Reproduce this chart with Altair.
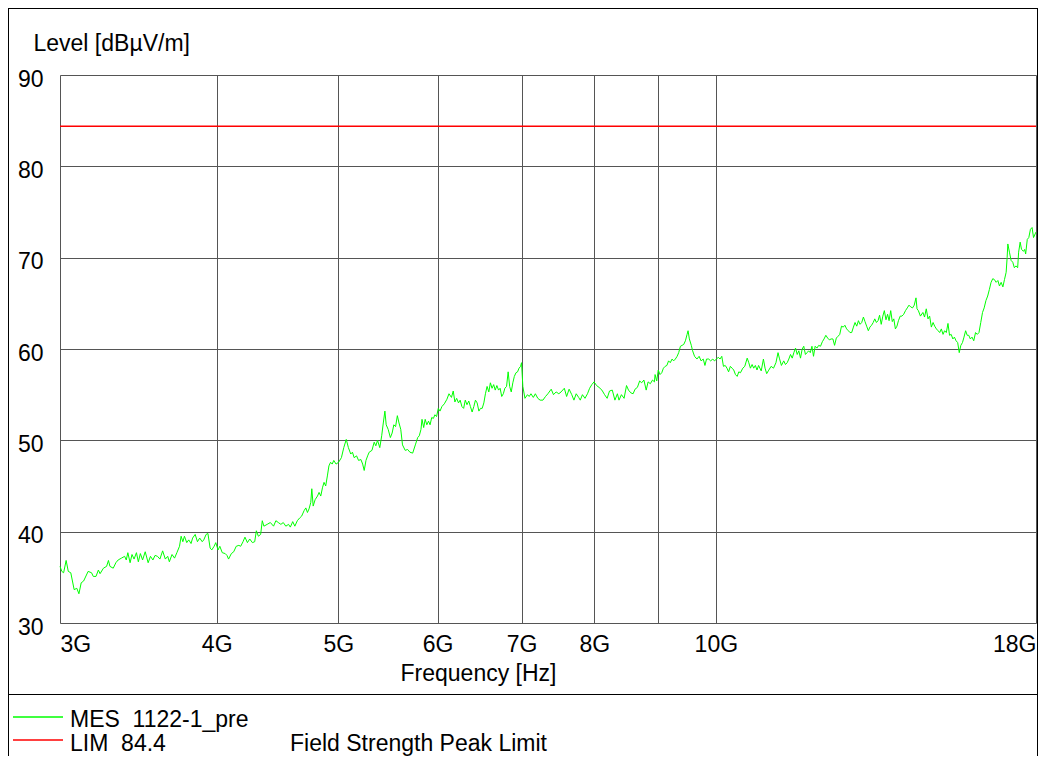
import altair as alt
import pandas as pd

# ---------------- data ----------------
FREQ_GHZ = [
    3.000, 3.010, 3.020, 3.034, 3.046, 3.060, 3.079, 3.094, 3.106, 3.119, 3.133, 3.159, 3.179, 3.189, 3.205,
    3.219, 3.229, 3.249, 3.268, 3.279, 3.288, 3.308, 3.324, 3.338, 3.358, 3.378, 3.388, 3.398, 3.412, 3.424,
    3.437, 3.452, 3.464, 3.477, 3.491, 3.508, 3.527, 3.542, 3.558, 3.572, 3.588, 3.604, 3.622, 3.640, 3.656,
    3.667, 3.685, 3.702, 3.718, 3.736, 3.747, 3.759, 3.770, 3.786, 3.800, 3.816, 3.827, 3.845, 3.861, 3.877,
    3.895, 3.906, 3.923, 3.936, 3.952, 3.964, 3.981, 3.993, 4.010, 4.023, 4.041, 4.063, 4.076, 4.088, 4.109,
    4.127, 4.146, 4.166, 4.180, 4.198, 4.213, 4.232, 4.250, 4.271, 4.289, 4.302, 4.318, 4.336,
    4.349, 4.362, 4.388, 4.414, 4.440, 4.459, 4.479, 4.500, 4.520, 4.541, 4.564, 4.579, 4.599, 4.617, 4.638,
    4.658, 4.675, 4.696, 4.711, 4.725, 4.739, 4.754, 4.763, 4.775, 4.792, 4.813, 4.827, 4.842, 4.857, 4.871,
    4.886, 4.901, 4.915, 4.930, 4.945, 4.959, 4.980, 5.003, 5.029, 5.051, 5.074, 5.094, 5.116, 5.132, 5.148,
    5.171, 5.190, 5.212, 5.229, 5.244, 5.261, 5.277, 5.292, 5.319, 5.341, 5.357, 5.374, 5.396, 5.415, 5.431,
    5.447, 5.460, 5.480, 5.502, 5.520, 5.537, 5.555, 5.573, 5.590, 5.608, 5.626, 5.654, 5.679, 5.703, 5.732,
    5.760, 5.785, 5.802, 5.820, 5.831, 5.849, 5.865, 5.883, 5.901, 5.918, 5.936, 5.954, 5.971, 5.989, 6.008,
    6.027, 6.048, 6.075, 6.104, 6.127, 6.155, 6.175, 6.194,
    6.214, 6.235, 6.254, 6.274, 6.294, 6.313, 6.333, 6.354, 6.373, 6.393, 6.413, 6.432, 6.452, 6.473, 6.492,
    6.512, 6.532, 6.551, 6.571, 6.592, 6.611, 6.631, 6.651, 6.670, 6.690, 6.711, 6.730, 6.750, 6.770, 6.789,
    6.810, 6.830, 6.849, 6.869, 6.889, 6.908, 6.929, 6.949, 6.968, 6.988, 7.000, 7.017, 7.044, 7.077, 7.099,
    7.122, 7.153, 7.180, 7.212, 7.243, 7.280, 7.315, 7.347, 7.392, 7.423, 7.459, 7.496, 7.527, 7.572, 7.604,
    7.639, 7.676, 7.707, 7.739, 7.774, 7.797, 7.828, 7.865, 7.901, 7.932, 7.964, 7.997, 8.034, 8.070, 8.113,
    8.153, 8.191, 8.227, 8.269, 8.309, 8.347, 8.372, 8.409, 8.450, 8.488, 8.519, 8.555, 8.591, 8.622, 8.659,
    8.695, 8.727, 8.763, 8.800, 8.831, 8.867, 8.903, 8.934,
    8.945, 8.972, 8.997, 9.026, 9.055, 9.083, 9.112, 9.141, 9.169, 9.198, 9.228, 9.255, 9.284, 9.314, 9.341,
    9.371, 9.400, 9.428, 9.457, 9.486, 9.503, 9.526, 9.560, 9.583, 9.617, 9.659, 9.698, 9.733, 9.772, 9.802,
    9.831, 9.871, 9.905, 9.945, 9.974, 10.014, 10.044, 10.077, 10.110, 10.141, 10.174, 10.207, 10.237, 10.270,
    10.303, 10.334, 10.367, 10.400, 10.431, 10.463, 10.508, 10.546, 10.593, 10.624, 10.656, 10.689, 10.720,
    10.753, 10.785, 10.817, 10.869, 10.913, 10.946, 10.979, 11.011, 11.068, 11.117, 11.167, 11.210, 11.237,
    11.280, 11.328, 11.364, 11.400, 11.434, 11.470, 11.506, 11.540, 11.576, 11.612, 11.646, 11.682, 11.718,
    11.752, 11.788, 11.824, 11.858, 11.894, 11.930, 11.964, 12.000, 12.040, 12.079, 12.119, 12.160, 12.198,
    12.238, 12.279, 12.317, 12.357, 12.398, 12.436, 12.476, 12.517, 12.555, 12.595, 12.636, 12.674, 12.714,
    12.755, 12.793,
    12.833, 12.874, 12.912, 12.952, 12.993, 13.031, 13.071, 13.112, 13.150, 13.190, 13.231, 13.269, 13.310,
    13.350, 13.388, 13.429, 13.469, 13.507, 13.548, 13.588, 13.626, 13.667, 13.707, 13.745, 13.786, 13.826,
    13.864, 13.905, 13.945, 13.983, 14.028, 14.074, 14.118, 14.165, 14.212, 14.256, 14.303, 14.350, 14.394,
    14.441, 14.468, 14.504, 14.559, 14.625, 14.669, 14.716, 14.763, 14.807, 14.854, 14.901, 14.945, 14.992,
    15.039, 15.083, 15.129, 15.176, 15.220, 15.267, 15.314, 15.358, 15.405, 15.452, 15.496, 15.543, 15.590,
    15.634, 15.680, 15.727, 15.771, 15.818, 15.865, 15.909, 15.956, 16.006, 16.056, 16.109, 16.161, 16.211,
    16.264, 16.317, 16.366, 16.419, 16.472, 16.522, 16.575, 16.627, 16.677, 16.730, 16.783, 16.832, 16.885,
    16.938, 16.988, 17.040, 17.071, 17.093, 17.143, 17.196, 17.248, 17.298, 17.351, 17.404, 17.435, 17.484,
    17.528, 17.590, 17.630, 17.661, 17.714, 17.764, 17.817, 17.870, 17.919, 17.972, 18.000,
]

LEVEL_DBUV = [
    36.2, 35.65, 35.5, 36.85, 35.65, 35.5, 33.65, 33.8, 33.2, 34.4, 34.6, 35.65, 35.5, 35.1, 35.1,
    35.8, 35.4, 36.0, 36.2, 36.85, 36.2, 36.0, 36.6, 36.9, 37.1, 37.3, 36.9, 37.7, 36.6, 37.5,
    37.0, 37.7, 36.7, 37.6, 36.9, 37.8, 36.6, 37.3, 36.9, 37.4, 37.3, 37.0, 37.9, 37.0, 37.3,
    36.7, 37.5, 37.1, 37.7, 38.4, 39.5, 38.9, 39.5, 38.8, 39.1, 38.7, 39.3, 39.7, 38.9, 39.3,
    38.9, 39.1, 39.7, 39.8, 38.2, 38.0, 38.4, 38.8, 38.0, 38.4, 37.7, 37.6, 37.4, 37.0, 37.6,
    37.8, 38.4, 38.5, 38.4, 38.9, 39.4, 38.8, 39.2, 38.8, 38.9, 40.1, 39.5, 39.7,
    41.2, 40.6, 40.8, 41.0, 40.6, 41.2, 41.0, 40.8, 41.0, 40.6, 40.8, 40.5, 41.1, 40.6, 41.2,
    41.5, 41.7, 42.3, 42.6, 42.1, 42.5, 43.2, 44.7, 42.8, 43.5, 43.9, 44.3, 43.9, 44.8, 45.4,
    45.0, 46.1, 47.2, 47.6, 47.4, 47.8, 47.4, 47.6, 48.1, 49.2, 50.1, 49.2, 48.5, 48.7, 48.1,
    48.3, 47.8, 47.9, 47.4, 46.7, 47.8, 48.3, 48.7, 48.9, 49.8, 49.4, 50.0, 49.2, 50.5, 51.9,
    53.2, 51.7, 51.2, 50.3, 50.8, 51.7, 51.5, 52.7, 51.9, 51.2, 49.5, 48.9, 49.0, 48.7, 48.6,
    49.5, 50.3, 50.5, 51.2, 52.3, 51.4, 52.3, 51.7, 52.1, 51.7, 52.5, 52.4, 52.8, 52.6, 53.5,
    53.2, 53.7, 54.0, 54.5, 55.1, 54.7, 55.4, 54.2,
    54.6, 54.1, 54.4, 53.7, 53.5, 54.4, 53.9, 54.3, 53.7, 53.1, 53.7, 54.4, 54.1, 53.2, 53.5,
    53.5, 54.1, 55.1, 55.9, 55.3, 56.3, 55.7, 56.1, 55.5, 56.0, 55.5, 55.7, 54.8, 55.1, 55.7,
    55.9, 57.5, 55.9, 55.3, 56.3, 57.0, 57.4, 57.5, 57.9, 58.1, 58.5, 55.9, 54.6, 55.0, 54.8,
    55.1, 54.7, 55.1, 54.6, 54.4, 54.4, 54.8, 55.1, 55.6, 55.0, 55.3, 55.1, 55.3, 55.7, 54.8,
    55.6, 55.0, 54.4, 55.1, 54.7, 54.4, 55.0, 54.6, 55.1, 55.7, 56.1, 56.4, 56.0, 55.8, 55.5,
    55.0, 54.6, 55.4, 55.5, 54.4, 55.1, 54.4, 55.0, 54.6, 56.0, 55.5, 55.2, 55.1, 55.6, 55.8,
    56.5, 56.3, 56.6, 55.5, 56.4, 56.2, 56.6, 56.4,
    57.2, 56.5, 57.7, 57.2, 57.4, 57.9, 58.1, 58.2, 58.7, 58.5, 58.9, 58.7, 58.9, 59.2, 59.6,
    60.3, 60.4, 60.5, 60.9, 61.6, 62.0, 61.1, 60.4, 59.8, 59.2, 58.9, 59.2, 58.7, 58.9, 58.2,
    58.9, 58.9, 58.7, 58.9, 58.7, 58.9, 59.1, 58.9, 59.2, 58.1, 58.2, 57.9, 57.5, 58.1,
    57.9, 57.7, 57.2, 57.0, 57.5, 57.4, 57.9, 58.1, 59.0, 58.5, 57.9, 58.3, 57.9,
    58.2, 57.7, 58.2, 57.6, 58.9, 57.9, 57.3, 57.6, 58.1, 57.9, 58.5, 59.6, 59.0,
    58.2, 58.7, 58.3, 58.5, 58.9, 59.4, 59.0, 59.6, 60.1, 59.4, 59.8, 59.0, 60.0,
    60.3, 59.4, 59.6, 59.8, 59.6, 60.3, 59.2, 60.3, 60.1, 60.4, 60.3, 60.8, 61.1,
    61.5, 61.2, 61.0, 61.1, 61.1, 60.4, 61.2, 61.4, 61.6, 62.5, 62.4, 62.6, 62.2,
    62.0, 61.8,
    61.8, 62.4, 62.9, 62.5, 63.1, 62.7, 62.9, 63.5, 63.0, 62.5, 62.0, 62.4, 62.6,
    62.9, 63.3, 62.9, 63.1, 63.7, 62.7, 63.6, 64.2, 63.2, 63.8, 63.1, 64.2, 63.0,
    63.3, 62.2, 62.5, 63.1, 63.6, 63.6, 63.8, 64.2, 64.5, 64.8, 64.6, 64.5, 64.8,
    65.6, 64.4, 64.2, 63.6, 64.0, 63.5, 64.4, 63.3, 63.6, 62.4, 62.9, 62.5, 62.2,
    62.0, 61.8, 62.2, 61.6, 62.0, 61.8, 62.8, 61.5, 61.6, 61.1, 61.3, 60.9, 60.7,
    59.6, 60.4, 60.7, 61.3, 62.0, 61.5, 61.5, 61.1, 61.3, 60.9, 61.8, 61.6, 61.8,
    62.9, 64.0, 64.5, 65.3, 65.8, 66.5, 67.3, 67.7, 67.6, 67.3, 67.5, 66.9, 67.3,
    66.8, 67.6, 68.4, 70.0, 71.5, 70.6, 69.7, 69.5, 68.9, 69.1, 68.9, 70.6, 71.7,
    70.9, 70.7, 70.9, 70.4, 72.0, 72.2, 73.1, 73.3, 72.2, 72.6, 72.8,
]

LIMIT_LEVEL = [84.4]
X_TICKS = [3, 4, 5, 6, 7, 8, 9, 10, 18]
X_LABELS = ["3G", "4G", "5G", "6G", "7G", "8G", "", "10G", "18G"]
Y_TICKS = [30, 40, 50, 60, 70, 80, 90]
LEGEND_NAMES = ["MES\u00a0 1122-1_pre", "LIM\u00a0 84.4"]
LEGEND_COLORS = ["#00ff00", "#ff0000"]
LIMIT_DESC = "Field Strength Peak Limit"

FONT = "Liberation Sans"
FS = 23
GRID = "#555555"

trace_df = pd.DataFrame({"freq": FREQ_GHZ, "level": LEVEL_DBUV})
limit_df = pd.DataFrame({"limit": LIMIT_LEVEL})

label_expr = ""
for v, lab in zip(X_TICKS, X_LABELS):
    label_expr += f"datum.value == {v} ? '{lab}' : "
label_expr += "''"

x_scale = alt.Scale(type="log", domain=[3, 18], nice=False)
y_scale = alt.Scale(domain=[30, 90], nice=False, zero=False)

x_axis = alt.Axis(
    values=X_TICKS, labelExpr=label_expr, grid=True, gridColor=GRID, gridOpacity=1,
    ticks=False, domain=False, labelFlush=True, labelOverlap=False, labelPadding=10,
    labelFontSize=FS, labelFont=FONT, labelColor="black",
    title="Frequency [Hz]", titleX=418, titleY=57, titleAlign="center",
    titleBaseline="alphabetic", titleFontWeight="normal", titleFontSize=FS,
    titleFont=FONT, titleColor="black",
)
y_axis = alt.Axis(
    values=Y_TICKS, grid=True, gridColor=GRID, gridOpacity=1, ticks=False, domain=False,
    labelPadding=17, labelOffset=4, labelBaseline="middle", labelFontSize=FS,
    labelFont=FONT, labelColor="black",
    title="Level [dB\u00b5V/m]", titleAngle=0, titleAlign="left", titleBaseline="alphabetic",
    titleX=-27, titleY=-25, titleFontWeight="normal", titleFontSize=FS, titleFont=FONT,
    titleColor="black",
)

trace = alt.Chart(trace_df).mark_line(color=LEGEND_COLORS[0], strokeWidth=1).encode(
    x=alt.X("freq:Q", scale=x_scale, axis=x_axis),
    y=alt.Y("level:Q", scale=y_scale, axis=y_axis),
)

limit = alt.Chart(limit_df).mark_rule(color=LEGEND_COLORS[1], strokeWidth=1.5).encode(
    y=alt.Y("limit:Q", scale=y_scale),
)

one = alt.Data(values=[{}])


def rule(x, x2, y, y2, color="black", width=1):
    return alt.Chart(one).mark_rule(color=color, strokeWidth=width).encode(
        x=alt.value(x), x2=alt.value(x2), y=alt.value(y), y2=alt.value(y2)
    )


def label(txt, x, y):
    return alt.Chart(one).mark_text(
        text=txt, align="left", baseline="alphabetic", font=FONT, fontSize=FS, color="black"
    ).encode(x=alt.value(x), y=alt.value(y))


frame_left = rule(-51.5, -51.5, -67, 683)
frame_top = rule(-52, 978, -66.5, -66.5)
frame_right = rule(977.5, 977.5, -67, 683)
separator = rule(-52, 978, 619.5, 619.5)

leg_green = rule(-47, 3, 642, 642, LEGEND_COLORS[0], 1.3)
leg_red = rule(-47, 3, 665, 665, LEGEND_COLORS[1], 1.6)
leg_t1 = label(LEGEND_NAMES[0], 10, 652)
leg_t2 = label(LEGEND_NAMES[1], 10, 676)
leg_t3 = label(LIMIT_DESC, 230, 676)

chart = alt.layer(
    trace, limit, frame_left, frame_top, frame_right, separator,
    leg_green, leg_red, leg_t1, leg_t2, leg_t3,
).properties(
    width=976, height=548,
    padding={"left": 52, "top": 67, "right": 2, "bottom": 133},
    autosize=alt.AutoSizeParams(type="none"),
).configure_view(stroke="black", strokeWidth=1).configure(background="white")

chart.save("out.html", embed_options={"renderer": "svg", "actions": False})
